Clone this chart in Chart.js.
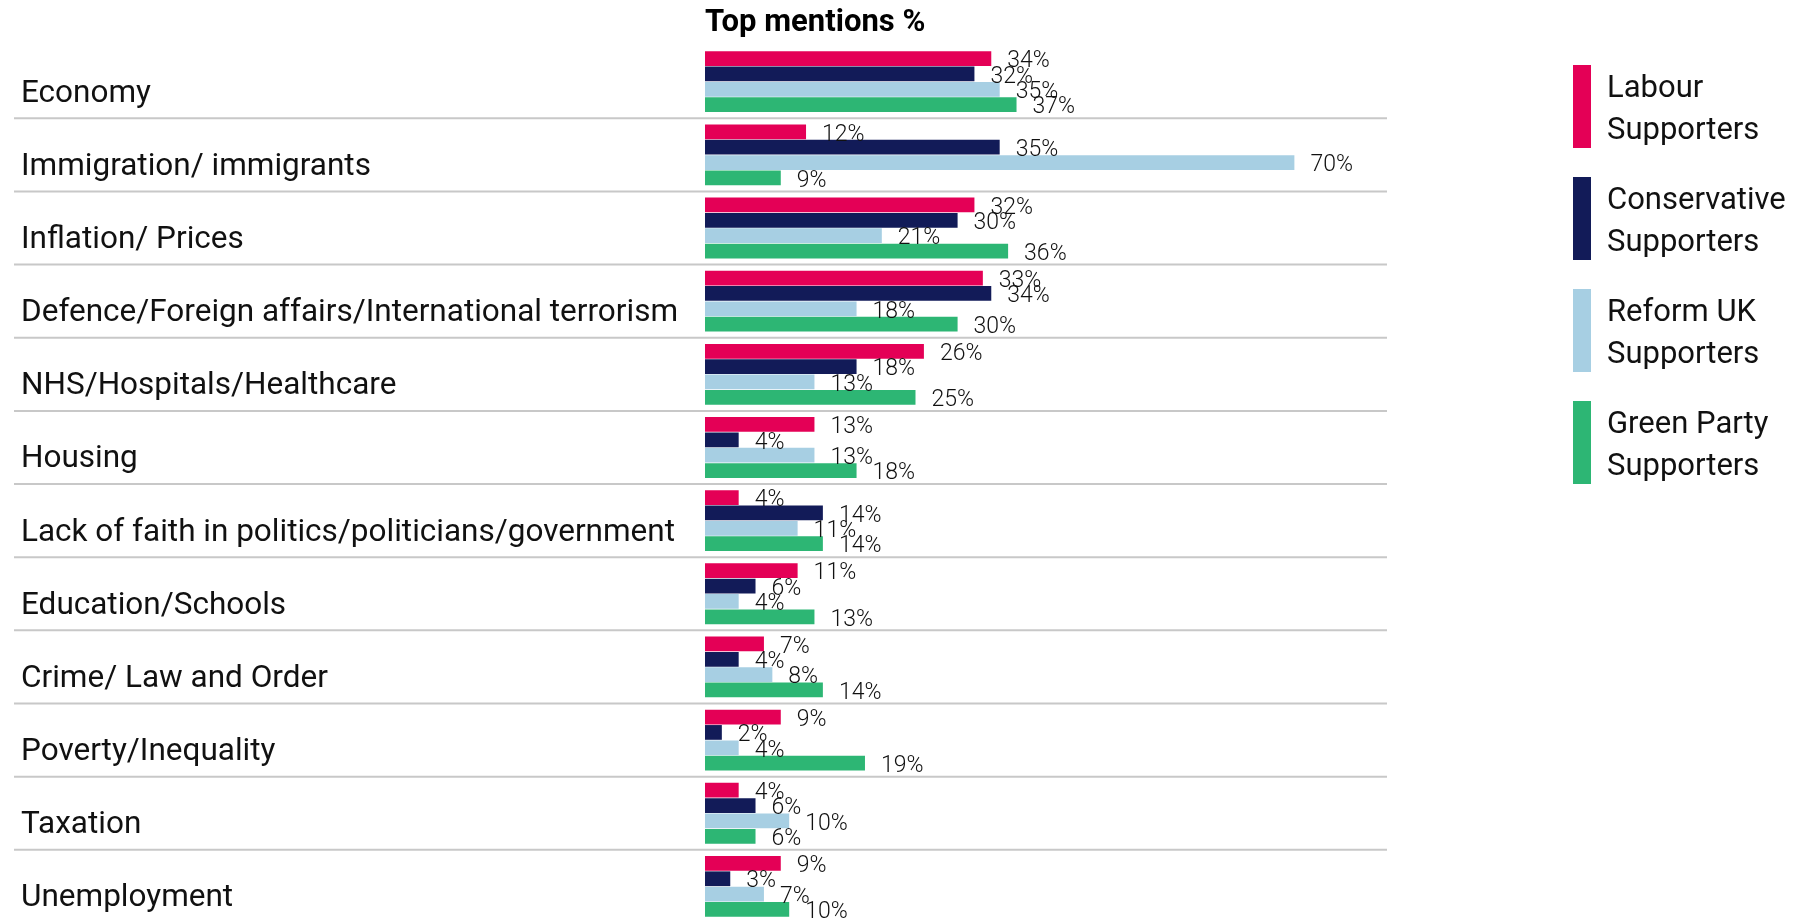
<!DOCTYPE html>
<html>
<head>
<meta charset="utf-8">
<script src="https://cdn.jsdelivr.net/npm/chart.js@4"></script>
<style>
  body { margin: 0; background: #fff; }
  #wrap { position: relative; width: 1813px; height: 923px; }
  #legend { position: absolute; left: 1573px; top: 65px; font-family: Roboto, sans-serif; font-size: 31px; color: #111; }
  .item { display: flex; height: 112px; }
  .sw { width: 18px; height: 83px; margin-right: 16px; }
  .txt { line-height: 42px; margin-top: 1px; }
</style>
</head>
<body>
<div id="wrap">
  <canvas id="topChart"></canvas>
  <div id="legend"></div>
</div>
<script>
const categories = [
  'Economy', 'Immigration/ immigrants', 'Inflation/ Prices',
  'Defence/Foreign affairs/International terrorism', 'NHS/Hospitals/Healthcare',
  'Housing', 'Lack of faith in politics/politicians/government', 'Education/Schools',
  'Crime/ Law and Order', 'Poverty/Inequality', 'Taxation', 'Unemployment'
];
const seriesNames = [
  ['Labour', 'Supporters'],
  ['Conservative', 'Supporters'],
  ['Reform UK', 'Supporters'],
  ['Green Party', 'Supporters']
];
const labour       = [34, 12, 32, 33, 26, 13, 4, 11, 7, 9, 4, 9];
const conservative = [32, 35, 30, 34, 18, 4, 14, 6, 4, 2, 6, 3];
const reform       = [35, 70, 21, 18, 13, 13, 11, 4, 8, 4, 10, 7];
const green        = [37, 9, 36, 30, 25, 18, 14, 13, 14, 19, 6, 10];

const colors = ['#E40056', '#121B58', '#A7CFE3', '#2DB674'];
const values = [labour, conservative, reform, green];

// legend (html, right side)
const legendEl = document.getElementById('legend');
seriesNames.forEach((name, i) => {
  legendEl.innerHTML += '<div class="item"><div class="sw" style="background:' + colors[i] +
    '"></div><div class="txt">' + name[0] + '<br>' + name[1] + '</div></div>';
});

// separators between categories, running under the labels too
const separators = {
  id: 'separators',
  beforeDatasetsDraw(chart) {
    const y = chart.scales.y;
    const area = chart.chartArea;
    const step = (area.bottom - area.top) / categories.length;
    const ctx = chart.ctx;
    ctx.save();
    ctx.strokeStyle = '#c8c8c8';
    ctx.lineWidth = 2;
    for (let i = 0; i < categories.length - 1; i++) {
      const py = y.getPixelForValue(i) + step / 2;
      ctx.beginPath();
      ctx.moveTo(14, py);
      ctx.lineTo(area.right, py);
      ctx.stroke();
    }
    ctx.restore();
  }
};

// value labels at bar ends
const valueLabels = {
  id: 'valueLabels',
  afterDatasetsDraw(chart) {
    const ctx = chart.ctx;
    ctx.save();
    ctx.font = '300 23px Roboto';
    ctx.fillStyle = '#111';
    ctx.textAlign = 'left';
    ctx.textBaseline = 'middle';
    chart.data.datasets.forEach((ds, d) => {
      chart.getDatasetMeta(d).data.forEach((bar, i) => {
        ctx.fillText(ds.data[i] + '%', bar.x + 16, bar.y + 3);
      });
    });
    ctx.restore();
  }
};

new Chart(document.getElementById('topChart'), {
  type: 'bar',
  data: {
    labels: categories,
    datasets: values.map((v, i) => ({
      label: seriesNames[i].join(' '),
      data: v,
      backgroundColor: colors[i],
      borderWidth: 0,
      barPercentage: 0.96,
      categoryPercentage: 0.84
    }))
  },
  options: {
    indexAxis: 'y',
    responsive: true,
    maintainAspectRatio: false,
    animation: false,
    layout: { padding: { left: 21, right: 426, top: 0, bottom: 0 } },
    plugins: {
      legend: { display: false },
      tooltip: { enabled: false },
      title: {
        display: true,
        text: 'Top mentions %',
        align: 'start',
        fullSize: false,
        color: '#000',
        font: { family: 'Roboto', size: 31, weight: 'bold', lineHeight: 1.1 },
        padding: { top: 6, bottom: 5 }
      }
    },
    scales: {
      x: { display: false, min: 0, max: 81 },
      y: {
        grid: { display: false },
        border: { display: false },
        ticks: {
          crossAlign: 'far',
          padding: 0,
          labelOffset: 12,
          color: '#111',
          font: { family: 'Roboto', size: 31.5 }
        },
        afterFit(scale) {
          scale.width = 684;
          scale.paddingTop = 0;
          scale.paddingBottom = 0;
        }
      }
    }
  },
  plugins: [separators, valueLabels]
});
</script>
</body>
</html>
